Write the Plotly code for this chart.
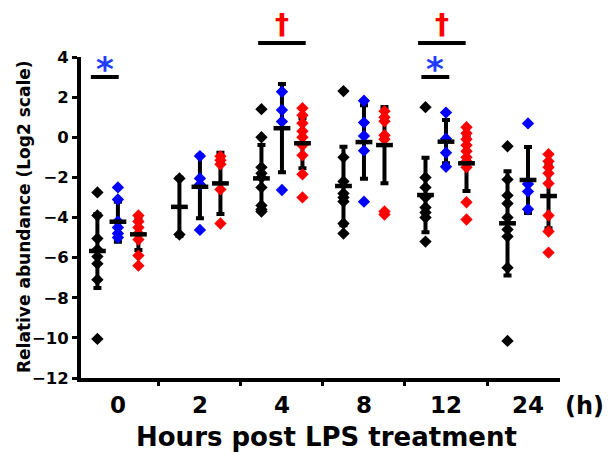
import plotly.graph_objects as go

categories = ["0", "2", "4", "8", "12", "24"]

black_points = [
    [-2.75, -3.9, -5.05, -5.6, -5.95, -6.3, -7.1, -10.05],
    [-2.05, -4.85],
    [1.4, 0.0, -1.5, -1.8, -2.0, -2.5, -3.4, -3.6, -3.7],
    [2.3, -1.0, -2.2, -2.8, -3.0, -3.2, -4.3, -4.8],
    [1.5, -2.0, -2.5, -3.0, -3.5, -3.75, -4.0, -5.2],
    [-0.45, -2.1, -2.9, -3.3, -4.0, -4.6, -4.95, -6.5, -10.15],
]
blue_points = [
    [-2.5, -3.1, -4.2, -4.5, -4.8, -5.0],
    [-0.94, -2.05, -2.35, -4.62],
    [2.27, 1.36, 0.78, -2.63],
    [1.82, 0.73, 0.06, -0.67, -3.21],
    [1.23, -0.07, -0.77, -1.47],
    [0.69, -2.33, -2.71, -3.59],
]
red_points = [
    [-3.9, -4.2, -4.5, -4.8, -5.1, -5.9, -6.4],
    [-0.95, -1.15, -1.35, -2.6, -4.3],
    [1.45, 1.1, 0.7, 0.3, 0.0, -0.4, -0.9, -1.85, -3.0],
    [1.3, 1.0, 0.8, 0.1, -0.1, -3.7, -3.85],
    [0.5, 0.2, -0.1, -0.4, -0.7, -1.0, -1.2, -1.5, -3.24, -4.1],
    [-0.85, -1.2, -1.5, -1.8, -2.3, -3.9, -4.7, -5.75],
]

black_mean = [-5.67, -3.47, -2.05, -2.43, -2.88, -4.29]
black_err = [1.85, 1.45, 1.66, 1.96, 1.86, 2.6]
blue_mean = [-4.21, -2.47, 0.45, -0.24, -0.22, -2.13]
blue_err = [1.0, 1.57, 2.2, 1.83, 1.08, 1.65]
red_mean = [-4.84, -2.3, -0.3, -0.39, -1.3, -2.93]
red_err = [0.78, 1.53, 1.25, 1.9, 1.38, 1.6]

# significance bars: (group index, left offset, right offset, symbol, colour, level)
sig_marks = [
    (0, -0.33, 0.01, "*", "#1f3cff", "low"),
    (2, -0.29, 0.29, "\u2020", "#ff0000", "high"),
    (4, -0.34, 0.24, "\u2020", "#ff0000", "high"),
    (4, -0.30, 0.04, "*", "#1f3cff", "low"),
]

series = [
    ("black", black_points, black_mean, black_err, "#000000", -0.25),
    ("blue", blue_points, blue_mean, blue_err, "#0000ff", 0.0),
    ("red", red_points, red_mean, red_err, "#ff0000", 0.25),
]

FONT = "DejaVu Sans"
fig = go.Figure()

# error bars (drawn underneath)
for name, pts, mean, err, col, off in series:
    fig.add_trace(go.Scatter(
        x=[i + off for i in range(len(categories))], y=mean, mode="markers",
        marker=dict(size=1, color="rgba(0,0,0,0)"),
        error_y=dict(type="data", array=err, visible=True, color="#000000",
                     thickness=4, width=4),
        showlegend=False, hoverinfo="skip"))

# individual points
for name, pts, mean, err, col, off in series:
    xs, ys = [], []
    for i, vals in enumerate(pts):
        xs += [i + off] * len(vals)
        ys += vals
    fig.add_trace(go.Scatter(
        x=xs, y=ys, mode="markers", name=name,
        marker=dict(symbol="diamond", size=9.5, color=col, line=dict(width=0)),
        showlegend=False))

# mean lines
for name, pts, mean, err, col, off in series:
    fig.add_trace(go.Scatter(
        x=[i + off for i in range(len(categories))], y=mean, mode="markers",
        marker=dict(symbol="line-ew", size=12, color="#000000",
                    line=dict(width=4.5, color="#000000")),
        showlegend=False, hoverinfo="skip"))

PLOT_TOP, PLOT_BOTTOM = 57, 378
def py(p):
    return (PLOT_BOTTOM - p) / (PLOT_BOTTOM - PLOT_TOP)

shapes = []
annotations = []
for g, lo, hi, sym, col, level in sig_marks:
    yline = py(43) if level == "high" else py(77)
    shapes.append(dict(type="line", xref="x", yref="paper", x0=g + lo, x1=g + hi,
                       y0=yline, y1=yline, line=dict(color="#000000", width=4)))
    if sym == "*":
        annotations.append(dict(x=g + (lo + hi) / 2, y=py(69), xref="x", yref="paper",
                                text="<b>*</b>", showarrow=False, yanchor="middle",
                                font=dict(family=FONT, size=34, color=col)))
    else:
        annotations.append(dict(x=g + (lo + hi) / 2, y=py(24), xref="x", yref="paper",
                                text="<b>\u2020</b>", showarrow=False, yanchor="middle",
                                font=dict(family=FONT, size=28, color=col)))

annotations.append(dict(x=-0.119, y=py(216), xref="paper", yref="paper",
                        text="<b>Relative abundance (Log2 scale)</b>", textangle=-90,
                        showarrow=False, xanchor="center", yanchor="middle",
                        font=dict(family=FONT, size=17, color="#000000")))
annotations.append(dict(x=(326 - 81) / 479, y=py(437), xref="paper", yref="paper",
                        text="<b>Hours post LPS treatment</b>", showarrow=False,
                        xanchor="center", yanchor="middle",
                        font=dict(family=FONT, size=26, color="#000000")))
annotations.append(dict(x=(584 - 81) / 479, y=py(406), xref="paper", yref="paper",
                        text="<b>(h)</b>", showarrow=False,
                        xanchor="center", yanchor="middle",
                        font=dict(family=FONT, size=24, color="#000000")))

fig.update_layout(
    width=616, height=455,
    margin=dict(l=81, r=56, t=57, b=77, pad=0),
    paper_bgcolor="white", plot_bgcolor="white",
    showlegend=False,
    shapes=shapes, annotations=annotations,
    xaxis=dict(
        range=[-0.45, 5.39], tickmode="array",
        tickvals=list(range(len(categories))), ticktext=categories,
        ticks="", showgrid=False, zeroline=False,
        showline=True, linewidth=4, linecolor="#000000",
        tickfont=dict(family=FONT, size=23, color="#000000", weight="bold"),
        ticklabelstandoff=3,
        minor=dict(tickmode="array", tickvals=[0.5, 1.5, 2.5, 3.5, 4.5],
                   ticks="outside", ticklen=4, tickwidth=3, tickcolor="#000000"),
    ),
    yaxis=dict(
        range=[-12, 4], tickmode="linear", tick0=-12, dtick=2,
        ticks="outside", ticklen=5, tickwidth=3, tickcolor="#000000",
        showgrid=False, zeroline=False,
        showline=True, linewidth=4, linecolor="#000000",
        tickfont=dict(family=FONT, size=16.5, color="#000000", weight="bold"),
    ),
)

fig.write_html("out.html")
